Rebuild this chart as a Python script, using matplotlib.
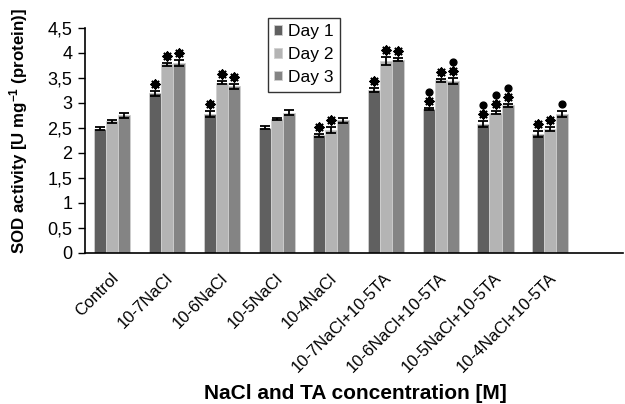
import matplotlib
matplotlib.use("Agg")
import matplotlib.pyplot as plt
import matplotlib.transforms as mtrans
import numpy as np

plt.rcParams['font.family'] = ['Liberation Sans', 'DejaVu Sans']
plt.rcParams['mathtext.fontset'] = 'custom'
plt.rcParams['mathtext.rm'] = 'Liberation Sans'
plt.rcParams['mathtext.bf'] = 'Liberation Sans:bold'
plt.rcParams['mathtext.default'] = 'bf'

# data
categories = ["Control", "10-7NaCl", "10-6NaCl", "10-5NaCl", "10-4NaCl",
              "10-7NaCl+10-5TA", "10-6NaCl+10-5TA", "10-5NaCl+10-5TA",
              "10-4NaCl+10-5TA"]
day1 = [2.48, 3.19, 2.78, 2.50, 2.35, 3.26, 2.88, 2.58, 2.38]
day2 = [2.63, 3.77, 3.40, 2.68, 2.45, 3.83, 3.45, 2.80, 2.48]
day3 = [2.75, 3.80, 3.33, 2.80, 2.65, 3.86, 3.43, 2.95, 2.78]
err1 = [0.03, 0.05, 0.06, 0.03, 0.03, 0.04, 0.02, 0.06, 0.06]
err2 = [0.03, 0.03, 0.03, 0.02, 0.06, 0.08, 0.03, 0.03, 0.04]
err3 = [0.05, 0.06, 0.05, 0.05, 0.05, 0.03, 0.06, 0.03, 0.06]
# significance: asterisk and dot
star1 = [0, 1, 1, 0, 1, 1, 1, 1, 1]
star2 = [0, 1, 1, 0, 1, 1, 1, 1, 1]
star3 = [0, 1, 1, 0, 0, 1, 1, 1, 0]
dot1 = [0, 0, 0, 0, 0, 0, 1, 1, 0]
dot2 = [0, 0, 0, 0, 0, 0, 0, 1, 0]
dot3 = [0, 0, 0, 0, 0, 0, 1, 1, 1]
series = ["Day 1", "Day 2", "Day 3"]
colors = ["#606060", "#b4b4b4", "#848484"]
yticks = [0, 0.5, 1, 1.5, 2, 2.5, 3, 3.5, 4, 4.5]
ytick_labels = ["0", "0,5", "1", "1,5", "2", "2,5", "3", "3,5", "4", "4,5"]

fig = plt.figure(figsize=(6.25, 4.04), dpi=100)
ax = fig.add_axes([0.136, 0.374, 0.86, 0.557])

x = np.arange(len(categories))
w = 0.22
vals = [day1, day2, day3]
errs = [err1, err2, err3]
stars = [star1, star2, star3]
dots = [dot1, dot2, dot3]
for i in range(3):
    xi = x + (i - 1) * w
    ax.bar(xi, vals[i], w, color=colors[i], edgecolor="#d0d0d0", linewidth=0.6,
           label=series[i], zorder=2)
    ax.errorbar(xi, vals[i], yerr=errs[i], fmt="none", ecolor="black",
                elinewidth=1.3, capsize=3.5, capthick=1.3, zorder=3)
    top = np.array(vals[i]) + np.array(errs[i])
    s = np.array(stars[i]) == 1
    ax.scatter(xi[s], top[s] + 0.14, marker=(8, 2, 0), s=34, color="black",
               linewidths=1.5, zorder=4)
    d = np.array(dots[i]) == 1
    ydot = top + np.where(s, 0.32, 0.14)
    ax.scatter(xi[d], ydot[d], marker="o", s=24, color="black", zorder=4)

ax.set_xlim(-0.5, 9.32)
ax.set_ylim(0, 4.5)
ax.set_yticks(yticks)
ax.set_yticklabels(ytick_labels, fontsize=13)
ax.set_xticks(x)
ax.set_xticklabels(categories, rotation=45, ha="right", va="top",
                   rotation_mode="anchor", fontsize=12)
ax.tick_params(axis="x", length=0, pad=4)
ax.tick_params(axis="y", direction="out", length=5, width=1, pad=4)
# nudge the rotated labels left/down (after tick_params, which resets transforms)
shift = mtrans.ScaledTranslation(-0.02, -0.12, fig.dpi_scale_trans)
for lab in ax.get_xticklabels():
    lab.set_transform(lab.get_transform() + shift)
for sp in ["top", "right"]:
    ax.spines[sp].set_visible(False)
ax.spines["left"].set_linewidth(1.2)
ax.spines["bottom"].set_linewidth(1.2)

fig.text(0.03, 0.676, "SOD activity [U mg$^{-1}$ (protein)]", rotation=90,
         ha="center", va="center", fontsize=12.2, fontweight="bold")
fig.text(0.568, 0.027, "NaCl and TA concentration [M]", ha="center",
         va="center", fontsize=15, fontweight="bold")

leg = ax.legend(loc="upper left", bbox_to_anchor=(0.34, 1.045), fontsize=12.5,
                frameon=True, fancybox=False, edgecolor="black",
                handlelength=0.45, handleheight=0.45, handletextpad=0.35,
                borderpad=0.38, labelspacing=0.45, borderaxespad=0)
leg.get_frame().set_linewidth(1.0)

fig.savefig("out.png", dpi=100)
